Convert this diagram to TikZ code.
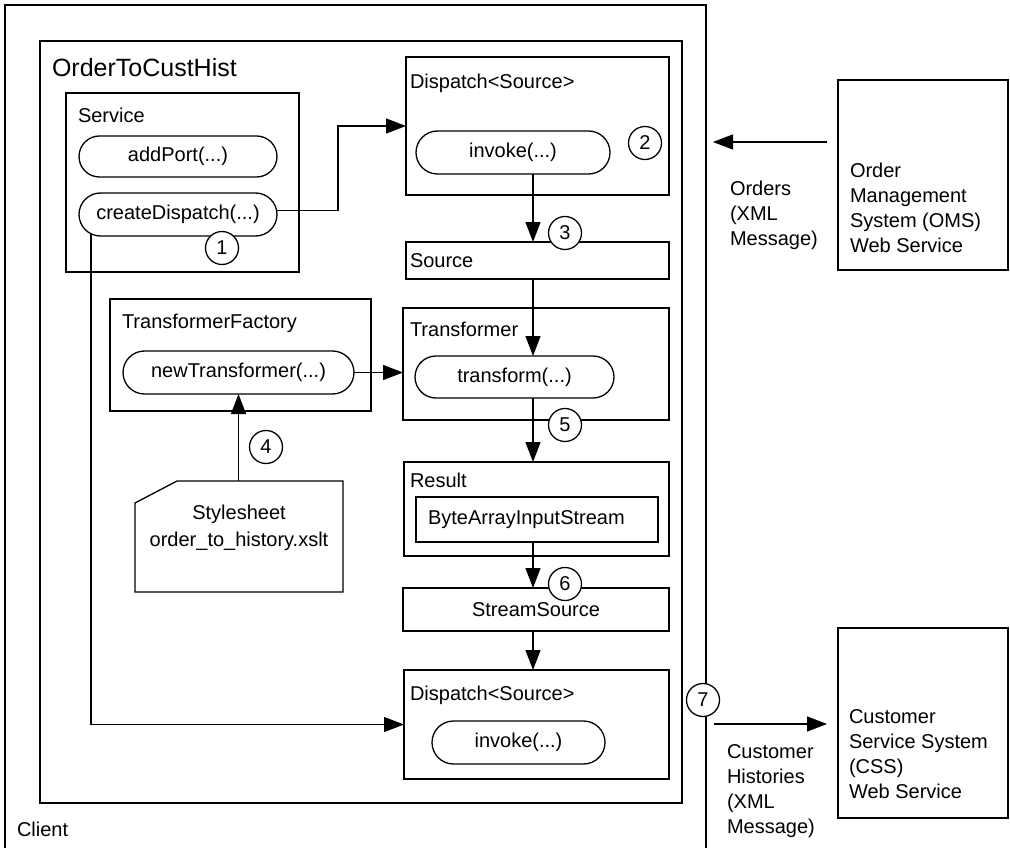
\documentclass[tikz,border=0pt]{standalone}
\usepackage{fontspec}
\setmainfont{Liberation Sans}
\usetikzlibrary{arrows.meta,shapes.misc}
\begin{document}
\begin{tikzpicture}[x=1pt,y=-1pt,
  every node/.style={font=\fontsize{20}{25}\selectfont, inner sep=0pt, outer sep=0pt},
  box/.style={draw, line width=1.3pt, anchor=north west},
  pill/.style={draw, rounded rectangle, line width=1.3pt, anchor=center},
  lbl/.style={anchor=west, align=left},
  num/.style={draw, circle, fill=white, minimum size=33pt, line width=1.3pt},
  conn/.style={line width=1.3pt, -{Triangle[length=20pt,width=15pt]}},
  plainline/.style={line width=1.3pt}]
\useasboundingbox (0,0) rectangle (1010,848);

% containers
\node[box, minimum width=701pt, minimum height=880pt] (client) at (5,5) {};
\node[box, minimum width=642pt, minimum height=762pt] (otc) at (40,41) {};
\node[lbl, font=\fontsize{25}{30}\selectfont] (otcl) at (52,68) {OrderToCustHist};
\node[lbl] (clientl) at (17,829) {Client};

% Service
\node[box, minimum width=233pt, minimum height=179pt] (svc) at (66,93) {};
\node[lbl] (svcl) at (78,115) {Service};
\node[pill, minimum width=198pt, minimum height=41pt] (ap) at (178,156.5) {addPort(...)};
\node[pill, minimum width=198pt, minimum height=43pt] (cd) at (178,214.5) {createDispatch(...)};

% Dispatch top
\node[box, minimum width=263pt, minimum height=138pt] (d1) at (406,57) {};
\node[lbl] (d1l) at (410,83) {Dispatch<Source>};
\node[pill, minimum width=194pt, minimum height=43pt] (inv1) at (513,152.5) {invoke(...)};

% Source
\node[box, minimum width=263pt, minimum height=37pt] (src) at (406,242) {};
\node[lbl] (srcl) at (410,261) {Source};

% Transformer
\node[box, minimum width=266pt, minimum height=112pt] (trans) at (403,308) {};
\node[lbl] (transl) at (410,329) {Transformer};
\node[pill, minimum width=199pt, minimum height=42pt] (tf) at (514.5,377) {transform(...)};

% TransformerFactory
\node[box, minimum width=261pt, minimum height=112pt] (tfac) at (110,299) {};
\node[lbl] (tfacl) at (122,323) {TransformerFactory};
\node[pill, minimum width=231pt, minimum height=43pt] (ntp) at (238.5,372.5) {newTransformer(...)};

% Stylesheet
\node[anchor=north west, minimum width=208pt, minimum height=111pt] (ss) at (135,481) {};
\draw[plainline] ([yshift=-22pt]ss.north west) -- ([xshift=42pt]ss.north west) -- (ss.north east) -- (ss.south east) -- (ss.south west) -- cycle;
\node[align=center, font=\fontsize{20}{27}\selectfont] (ssl) at (239,528) {Stylesheet\\order\_to\_history.xslt};

% Result
\node[box, minimum width=265pt, minimum height=94pt] (res) at (404,462) {};
\node[lbl] (resl) at (410,480) {Result};
\node[box, minimum width=242pt, minimum height=45pt] (bais) at (416,497) {};
\node[lbl] (baisl) at (428,519.5) {ByteArrayInputStream};

% StreamSource
\node[box, minimum width=266pt, minimum height=43pt] (sts) at (403,588) {StreamSource};

% Dispatch bottom
\node[box, minimum width=265pt, minimum height=109pt] (d2) at (404,670) {};
\node[lbl] (d2l) at (410,695) {Dispatch<Source>};
\node[pill, minimum width=173pt, minimum height=43pt] (inv2) at (518.5,742.5) {invoke(...)};

% external systems
\node[box, minimum width=170pt, minimum height=190pt] (oms) at (838,80) {};
\node[lbl] (omsl) at (850,208) {Order\\Management\\System (OMS)\\Web Service};
\node[box, minimum width=170pt, minimum height=190pt] (css) at (838,628) {};
\node[lbl] (cssl) at (849,754.5) {Customer\\Service System\\(CSS)\\Web Service};
\node[lbl] (ordl) at (730,215) {Orders\\(XML\\Message)};
\node[lbl] (chl) at (727,791.5) {Customer\\Histories\\(XML\\Message)};

% connectors
\coordinate (axis) at (533,0);
\coordinate (ordout) at (827,142);
\coordinate (ordin) at (713,142);
\coordinate (chout) at (714,724);
\coordinate (chin) at (827,724);

\draw[conn] ([yshift=4pt]cd.east) -- ++(61,0) |- (d1.west);
\draw[conn] ([xshift=-87pt,yshift=2pt]cd.south) |- (d2.west);
\draw[conn] (inv1.south -| axis) -- (src.north -| axis);
\draw[conn] (src.south -| axis) -- (tf.north -| axis);
\draw[conn] (tf.south -| axis) -- (res.north -| axis);
\draw[conn] (bais.south -| axis) -- (sts.north -| axis);
\draw[conn] (sts.south -| axis) -- (d2.north -| axis);
\draw[conn] (ntp.east) -- (ntp.east -| trans.west);
\draw[conn] (ss.north -| ntp.south) -- (ntp.south);
\draw[conn] (ordout) -- (ordin);
\draw[conn] (chout) -- (chin);

% step numbers
\node[num] (n1) at (222,248) {1};
\node[num] (n2) at (645,143) {2};
\node[num] (n3) at (565,233) {3};
\node[num] (n4) at (266,447) {4};
\node[num] (n5) at (565,425) {5};
\node[num] (n6) at (565,584) {6};
\node[num] (n7) at (703,700) {7};
\end{tikzpicture}
\end{document}
